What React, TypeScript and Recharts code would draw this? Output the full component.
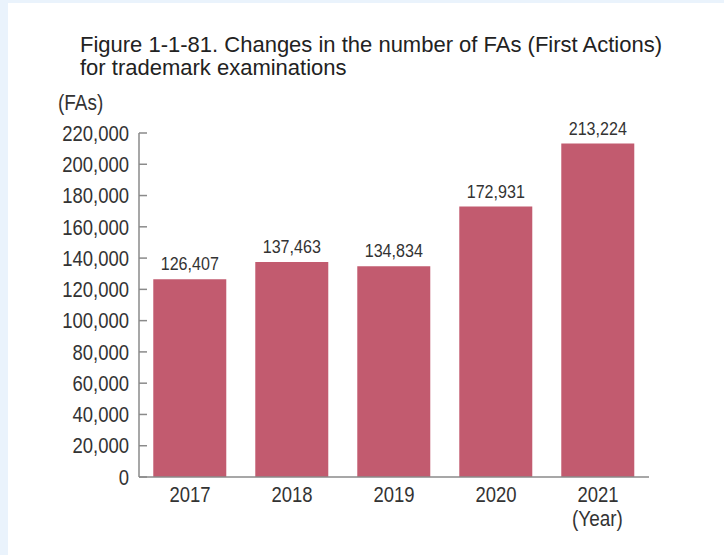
import React from 'react';
import { BarChart, Bar, XAxis, YAxis, LabelList } from 'recharts';

const years = ['2017', '2018', '2019', '2020', '2021'];
const firstActions = [126407, 137463, 134834, 172931, 213224];
const yTicks = [0, 20000, 40000, 60000, 80000, 100000, 120000, 140000, 160000, 180000, 200000, 220000];
const bandEdges = [1, 2, 3, 4, 5];

const data = years.map((year, i) => ({ year, value: firstActions[i] }));

const font = '"Liberation Sans", Arial, sans-serif';
const textColor = '#333';
const axisColor = '#8a8a8a';
const barColor = '#c25b6f';
const squeeze = 0.86; // the original uses a condensed face

const fmt = (v: number) => v.toLocaleString('en-US');

// text squeezed horizontally around its anchor point
const NarrowText = ({ x, y, anchor, size, dy, children }: any) => (
    <g transform={`translate(${x},${y})`}>
        <text
            transform={`scale(${squeeze},1)`}
            textAnchor={anchor}
            dy={dy}
            fill={textColor}
            fontSize={size}
            fontFamily={font}
        >
            {children}
        </text>
    </g>
);

const YTick = (props: any) => {
    const { x, y, payload } = props;
    return (
        <NarrowText x={x} y={y} anchor="end" size={21.5} dy="0.36em">
            {fmt(payload.value)}
        </NarrowText>
    );
};

const XTick = (props: any) => {
    const { x, y, payload } = props;
    return (
        <NarrowText x={x} y={y} anchor="middle" size={21.5} dy="0.75em">
            {payload.value}
        </NarrowText>
    );
};

const ValueLabel = (props: any) => {
    const { x, y, width, value } = props;
    return (
        <NarrowText x={Number(x) + Number(width) / 2} y={Number(y) - 9} anchor="middle" size={18.7} dy="0">
            {fmt(Number(value))}
        </NarrowText>
    );
};

const noteStyle: React.CSSProperties = {
    position: 'absolute',
    fontFamily: font,
    fontSize: 22,
    color: textColor,
    transform: `scaleX(${squeeze})`,
    transformOrigin: 'left top',
    whiteSpace: 'nowrap',
};

const App: React.FC = () => {
    return (
        <div style={{ position: 'relative', width: 724, height: 555, background: '#eaf3fc', overflow: 'hidden' }}>
            <style>{'body{margin:0}'}</style>
            <div style={{ position: 'absolute', left: 8, top: 3, width: 716, height: 552, background: '#fff' }} />
            <div
                style={{
                    position: 'absolute',
                    left: 80,
                    top: 33,
                    fontFamily: font,
                    fontSize: 22,
                    lineHeight: '23px',
                    color: '#222',
                    whiteSpace: 'nowrap',
                }}
            >
                Figure 1-1-81. Changes in the number of FAs (First Actions)
                <br />
                for trademark examinations
            </div>
            <div style={{ ...noteStyle, left: 58, top: 90 }}>(FAs)</div>
            <div style={{ ...noteStyle, left: 572, top: 506 }}>(Year)</div>
            <div style={{ position: 'absolute', left: 0, top: 0 }}>
                <BarChart
                    width={724}
                    height={555}
                    data={data}
                    margin={{ top: 133, right: 75, left: 59, bottom: 48 }}
                    barCategoryGap="14%"
                >
                    <XAxis
                        dataKey="year"
                        height={30}
                        tickLine={false}
                        axisLine={{ stroke: axisColor, strokeWidth: 1.5 }}
                        tick={<XTick />}
                        tickMargin={3}
                    />
                    <XAxis
                        xAxisId="edges"
                        type="number"
                        domain={[0, 5]}
                        ticks={bandEdges}
                        height={0}
                        axisLine={false}
                        tick={false}
                        tickSize={-8}
                        tickLine={{ stroke: axisColor, strokeWidth: 1.5 }}
                    />
                    <YAxis
                        width={80}
                        domain={[0, 220000]}
                        ticks={yTicks}
                        interval={0}
                        tickSize={-8}
                        tickMargin={18}
                        axisLine={{ stroke: axisColor, strokeWidth: 1.5 }}
                        tickLine={{ stroke: axisColor, strokeWidth: 1.5 }}
                        tick={<YTick />}
                    />
                    <Bar dataKey="value" fill={barColor} isAnimationActive={false}>
                        <LabelList dataKey="value" content={<ValueLabel />} />
                    </Bar>
                </BarChart>
            </div>
        </div>
    );
};

export default App;
